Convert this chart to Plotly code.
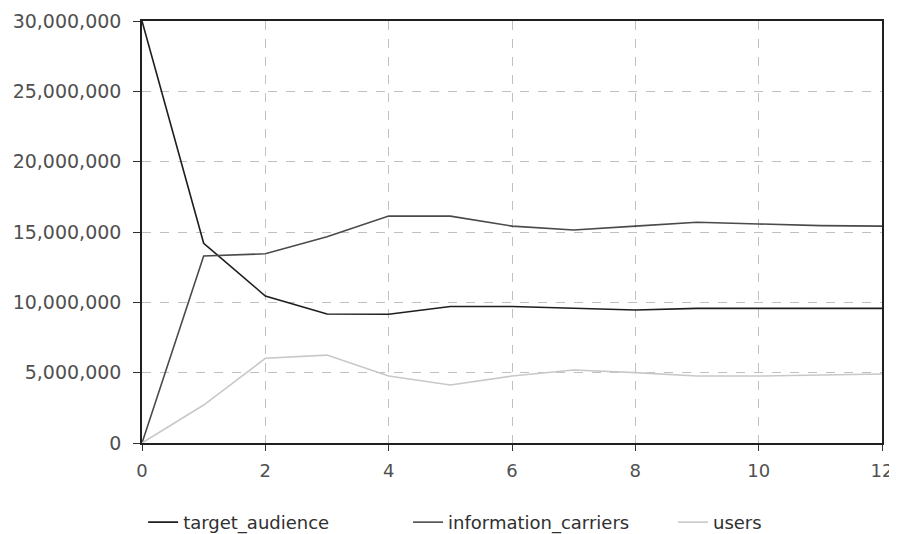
import plotly.graph_objects as go

steps = list(range(13))
target_audience = [30.0e6, 14.2e6, 10.45e6, 9.17e6, 9.15e6, 9.7e6, 9.7e6, 9.6e6, 9.45e6, 9.57e6, 9.57e6, 9.57e6, 9.57e6]
information_carriers = [0.0, 13.3e6, 13.45e6, 14.66e6, 16.13e6, 16.13e6, 15.42e6, 15.14e6, 15.42e6, 15.69e6, 15.57e6, 15.45e6, 15.42e6]
users = [0.0, 2.7e6, 6.02e6, 6.25e6, 4.76e6, 4.12e6, 4.76e6, 5.19e6, 5.0e6, 4.76e6, 4.76e6, 4.85e6, 4.9e6]

series = [
    ("target_audience", target_audience, "#1e1e1e", "legend", 0.152),
    ("information_carriers", information_carriers, "#4a4a4a", "legend2", 0.450),
    ("users", users, "#c8c8c8", "legend3", 0.748),
]

fig = go.Figure()
legends = {}
for name, vals, col, leg, lx in series:
    fig.add_trace(go.Scatter(x=steps, y=vals, name=name, mode="lines", legend=leg,
                             line=dict(color=col, width=1.6)))
    legends[leg] = dict(orientation="h", xref="container", yref="container",
                        x=lx, xanchor="left", y=0.022, yanchor="middle",
                        font=dict(family="DejaVu Sans", size=18, color="#303030"),
                        bgcolor="rgba(0,0,0,0)")

fig.update_layout(
    width=889, height=526,
    margin=dict(l=134, r=15, t=13, b=91, autoexpand=False),
    paper_bgcolor="white", plot_bgcolor="white",
    font=dict(family="DejaVu Sans", size=18, color="#505050"),
    showlegend=True,
    xaxis=dict(range=[0, 12], tickmode="linear", tick0=0, dtick=2, automargin=False,
               showgrid=True, gridcolor="#c0c0c0", griddash="dash", gridwidth=1,
               showline=True, linecolor="#202020", linewidth=1.5, mirror=True,
               ticks="outside", ticklen=6, tickcolor="#303030", ticklabelstandoff=5,
               zeroline=False, tickfont=dict(size=18, color="#505050")),
    yaxis=dict(range=[0, 30e6], tickmode="linear", tick0=0, dtick=5e6, automargin=False,
               tickformat=",d",
               showgrid=True, gridcolor="#c0c0c0", griddash="dash", gridwidth=1,
               showline=True, linecolor="#202020", linewidth=1.5, mirror=True,
               ticks="outside", ticklen=7, tickcolor="#303030", ticklabelstandoff=8,
               zeroline=False, tickfont=dict(size=19, color="#505050")),
    **legends,
)

fig.write_html("out.html")
